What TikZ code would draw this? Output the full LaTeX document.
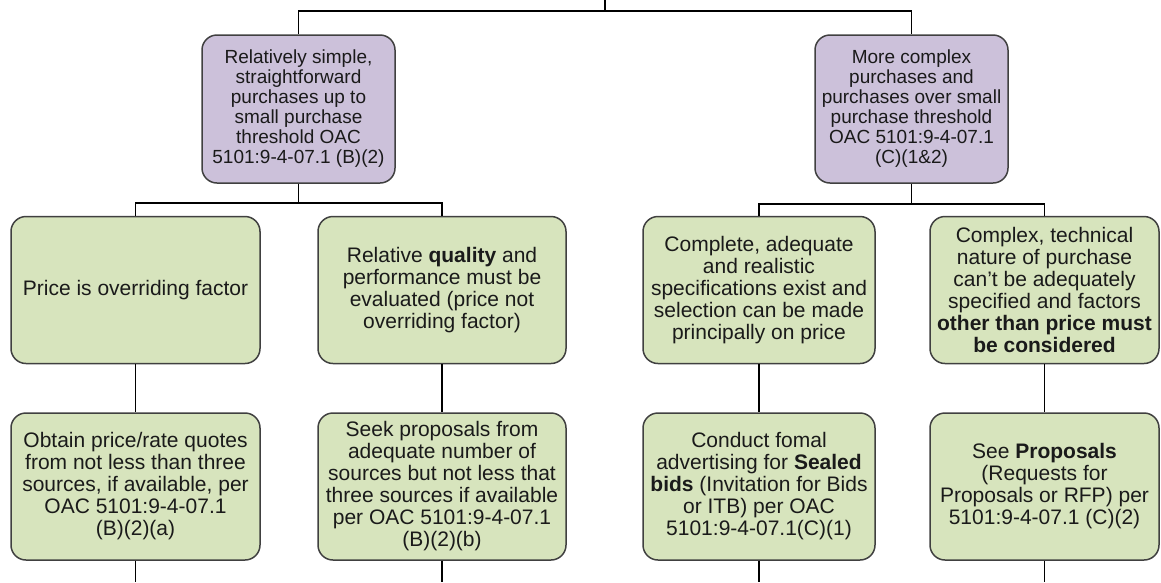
\documentclass[tikz,border=0pt]{standalone}
\usepackage{fontspec}
\setmainfont{Liberation Sans}
\definecolor{purplefill}{HTML}{CCC1DA}
\definecolor{greenfill}{HTML}{D7E4BD}
\definecolor{boxline}{HTML}{404040}
\definecolor{txt}{HTML}{1A1A1A}
\begin{document}
\begin{tikzpicture}[x=1pt,y=-1pt,
  basebox/.style={draw=boxline, line width=1.5pt, rounded corners=15pt, align=center, text=txt, inner sep=0pt},
  pbox/.style={basebox, fill=purplefill, minimum width=193pt, minimum height=148pt, font=\fontsize{19}{20}\selectfont},
  gbox/.style={basebox, fill=greenfill, minimum height=147pt, font=\fontsize{21}{22}\selectfont},
  conn/.style={draw=black, line width=1.3pt}]
\useasboundingbox (0,0) rectangle (1161,582);
\coordinate (top) at (605,0);
\coordinate (jt) at (605,11);
\coordinate (jl) at (298.5,203);
\coordinate (jr) at (911.5,204);
\coordinate (bot) at (0,582);

\node[pbox] (p1) at (298.5,109) {Relatively simple,\\straightforward\\purchases up to\\small purchase\\threshold OAC\\5101:9-4-07.1 (B)(2)};
\node[pbox] (p2) at (911.5,109) {More complex\\purchases and\\purchases over small\\purchase threshold\\OAC 5101:9-4-07.1\\(C)(1\&2)};

\node[gbox, minimum width=249pt] (g1) at (135.5,290) {Price is overriding factor};
\node[gbox, minimum width=248pt] (g2) at (442,290) {Relative \textbf{quality} and\\performance must be\\evaluated (price not\\overriding factor)};
\node[gbox, minimum width=232pt] (g3) at (759,290) {Complete, adequate\\and realistic\\specifications exist and\\selection can be made\\principally on price};
\node[gbox, minimum width=229pt] (g4) at (1044.5,290) {Complex, technical\\nature of purchase\\can't be adequately\\specified and factors\\\textbf{other than price must}\\\textbf{be considered}};

\node[gbox, minimum width=249pt] (b1) at (135.5,486.5) {Obtain price/rate quotes\\from not less than three\\sources, if available, per\\OAC 5101:9-4-07.1\\(B)(2)(a)};
\node[gbox, minimum width=248pt] (b2) at (442,486.5) {Seek proposals from\\adequate number of\\sources but not less that\\three sources if available\\per OAC 5101:9-4-07.1\\(B)(2)(b)};
\node[gbox, minimum width=232pt] (b3) at (759,486.5) {Conduct fomal\\advertising for \textbf{Sealed}\\\textbf{bids} (Invitation for Bids\\or ITB) per OAC\\5101:9-4-07.1(C)(1)};
\node[gbox, minimum width=229pt] (b4) at (1044.5,486.5) {See \textbf{Proposals}\\(Requests for\\Proposals or RFP) per\\5101:9-4-07.1 (C)(2)};

\draw[conn] (top) -- (jt);
\draw[conn] (p1.north) |- (jt) -| (p2.north);
\draw[conn] (p1.south) -- (jl);
\draw[conn] (g1.north) |- (jl) -| (g2.north);
\draw[conn] (p2.south) -- (jr);
\draw[conn] (g3.north) |- (jr) -| (g4.north);
\draw[conn] (g1.south) -- (b1.north);
\draw[conn] (g2.south) -- (b2.north);
\draw[conn] (g3.south) -- (b3.north);
\draw[conn] (g4.south) -- (b4.north);
\draw[conn] (b1.south) -- (b1.south |- bot);
\draw[conn] (b2.south) -- (b2.south |- bot);
\draw[conn] (b3.south) -- (b3.south |- bot);
\draw[conn] (b4.south) -- (b4.south |- bot);
\end{tikzpicture}
\end{document}
